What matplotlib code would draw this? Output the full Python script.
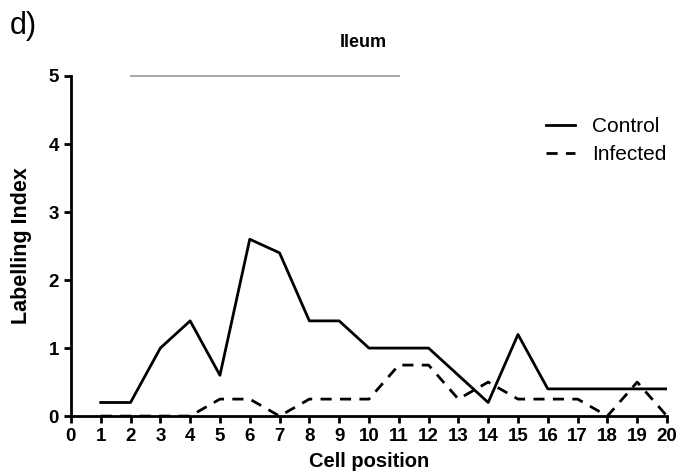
import matplotlib.pyplot as plt
import numpy as np

plt.rcParams['font.family'] = ['Liberation Sans', 'DejaVu Sans']

positions = list(range(1, 21))
control = [0.2, 0.2, 1.0, 1.4, 0.6, 2.6, 2.4, 1.4, 1.4, 1.0,
           1.0, 1.0, 0.6, 0.2, 1.2, 0.4, 0.4, 0.4, 0.4, 0.4]
infected = [0, 0, 0, 0, 0.25, 0.25, 0, 0.25, 0.25, 0.25,
            0.75, 0.75, 0.25, 0.5, 0.25, 0.25, 0.25, 0, 0.5, 0]
bar_start, bar_end, bar_level = 2, 11, 5

fig = plt.figure(figsize=(6.82, 4.75), dpi=100)
ax = fig.add_axes([0.104, 0.124, 0.874, 0.716])

ax.plot(positions, control, 'k-', linewidth=2, label='Control')
ax.plot(positions, infected, 'k--', linewidth=2, dashes=(4, 3), label='Infected')
ax.plot([bar_start, bar_end], [bar_level, bar_level], color='#999999', linewidth=1.2,
        clip_on=False)

ax.set_xlim(0, 20)
ax.set_ylim(0, 5)
ax.set_xticks(range(0, 21))
ax.set_yticks(range(0, 6))
for s in ['top', 'right']:
    ax.spines[s].set_visible(False)
for s in ['left', 'bottom']:
    ax.spines[s].set_linewidth(2)
ax.tick_params(width=2, length=5, labelsize=13.5, direction='out')
for lab in ax.get_xticklabels() + ax.get_yticklabels():
    lab.set_fontweight('bold')

ax.set_xlabel('Cell position', fontsize=14.5, fontweight='bold', labelpad=5)
ax.set_ylabel('Labelling Index', fontsize=15.5, fontweight='bold', labelpad=12)
fig.text(0.532, 0.91, 'Ileum', fontsize=13, fontweight='bold', ha='center', va='center')
fig.text(0.014, 0.945, 'd)', fontsize=22, ha='left', va='center')

ax.legend(loc='upper right', bbox_to_anchor=(1.03, 0.935), frameon=False, fontsize=15,
          handlelength=1.4, handletextpad=0.8, labelspacing=0.45)

plt.savefig('out.png', dpi=100)
